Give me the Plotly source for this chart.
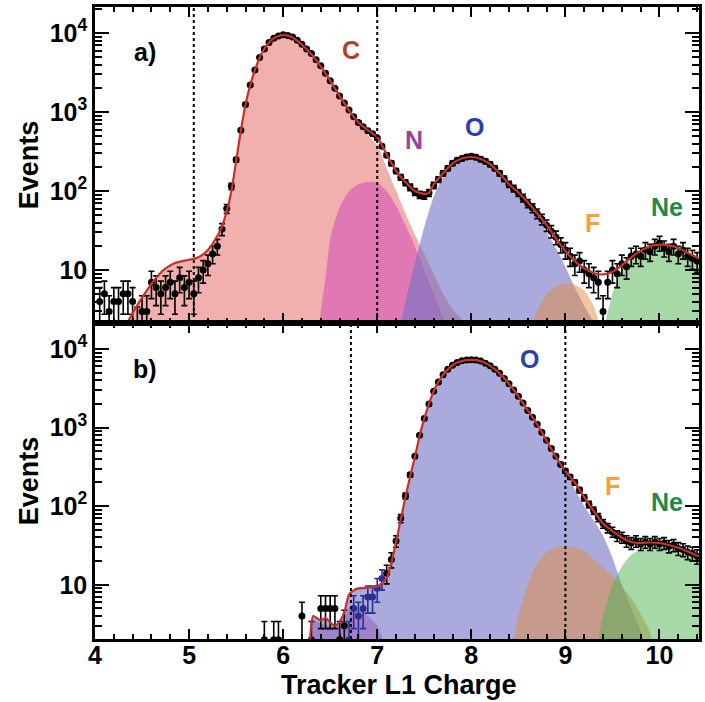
import math
import plotly.graph_objects as go
from plotly.subplots import make_subplots

# ---------------- data: panel a ----------------
A_PTS = [(4.05,4),(4.10,5),(4.15,3),(4.20,4),(4.25,4),(4.30,5),(4.35,5),(4.40,4),(4.45,2),(4.50,3),
         (4.55,3),(4.60,7),(4.65,6),(4.70,5),(4.75,6),(4.80,7),(4.85,5),(4.90,8),(4.95,6),(5.00,7),
         (5.05,5),(5.10,8),(5.15,10),(5.20,12),(5.25,16),(5.30,20),(5.35,33),(5.40,60),(5.45,115),(5.50,250),
         (5.55,590),(5.60,1250),(5.65,2200),(5.70,3400),(5.75,4900),(5.80,6300),(5.85,7600),(5.90,8600),(5.95,9200),(6.00,9500),
         (6.05,9300),(6.10,8900),(6.15,8100),(6.20,7200),(6.25,6300),(6.30,5500),(6.35,4600),(6.40,3850),(6.45,3100),(6.50,2500),
         (6.55,2000),(6.60,1600),(6.65,1300),(6.70,1060),(6.75,870),(6.80,740),(6.85,650),(6.90,580),(6.95,530),(7.00,470),
         (7.05,370),(7.10,285),(7.15,225),(7.20,180),(7.25,150),(7.30,128),(7.35,112),(7.40,98),(7.45,90),(7.50,88),
         (7.55,95),(7.60,118),(7.65,140),(7.70,168),(7.75,195),(7.80,225),(7.85,245),(7.90,258),(7.95,270),(8.00,275),
         (8.05,268),(8.10,252),(8.15,238),(8.20,218),(8.25,195),(8.30,168),(8.35,143),(8.40,122),(8.45,108),(8.50,95),
         (8.55,82),(8.60,70),(8.65,61),(8.70,52),(8.75,44),(8.80,37),(8.85,31),(8.90,26),(8.95,21),(9.00,18),
         (9.05,15),(9.10,12),(9.15,13),(9.20,10),(9.25,9),(9.30,8),(9.35,7),(9.40,3),(9.45,7),(9.50,10),
         (9.55,9),(9.60,12),(9.65,11),(9.70,15),(9.75,16),(9.80,15),(9.85,18),(9.90,17),(9.95,20),(10.00,22),
         (10.05,19),(10.10,17),(10.15,20),(10.20,16),(10.25,18),(10.30,15),(10.35,14),(10.40,13)]

FIT_A = [(4.30,1.5),(4.35,2.2),(4.45,3.6),(4.55,5.5),(4.65,8.0),(4.75,10.5),(4.85,12.3),(5.00,13.5),(5.10,14.5),
         (5.20,18),(5.30,27),(5.35,36),(5.40,55),(5.45,100),(5.50,240),(5.55,580),(5.60,1250),(5.65,2200),
         (5.70,3400),(5.75,4900),(5.80,6300),(5.85,7600),(5.90,8600),(5.95,9200),(6.00,9400),(6.05,9300),
         (6.10,8800),(6.15,8000),(6.20,7100),(6.30,5400),(6.40,3800),(6.50,2500),(6.60,1600),(6.70,1050),
         (6.80,740),(6.90,590),(7.00,480),(7.10,290),(7.20,180),(7.30,130),(7.40,100),(7.50,92),(7.55,95),
         (7.60,122),(7.70,168),(7.80,222),(7.90,258),(8.00,270),(8.10,255),(8.20,220),(8.30,168),(8.40,122),
         (8.50,96),(8.60,72),(8.70,52),(8.80,37),(8.90,25),(9.00,17.5),(9.10,13),(9.20,10.5),(9.30,9.2),
         (9.40,8.8),(9.50,9.5),(9.60,11.5),(9.70,14.5),(9.80,17.5),(9.90,20),(10.00,21),(10.10,20.5),
         (10.20,19),(10.30,16.5),(10.42,14)]

C_TAIL_A = [(6.80,700),(6.90,510),(7.00,380),(7.10,195),(7.20,100),(7.30,52),(7.40,28),(7.50,16),
            (7.60,9),(7.70,5),(7.80,3.2),(7.90,2.4),(8.00,1.8),(8.05,1.0)]
N_A = [(6.35,1.0),(6.40,3),(6.45,8),(6.50,25),(6.55,42),(6.60,62),(6.70,100),(6.80,122),(6.90,130),
       (6.95,131),(7.00,127),(7.10,100),(7.20,65),(7.30,37),(7.40,20),(7.50,10),(7.60,5),(7.70,2.5),(7.78,1.0)]
O_A = [(7.20,1.0),(7.25,2),(7.30,4),(7.40,12),(7.50,35),(7.60,85),(7.70,150),(7.80,212),(7.90,250),
       (8.00,265),(8.10,250),(8.20,216),(8.30,166),(8.40,120),(8.50,92),(8.60,66),(8.70,46),(8.80,30),
       (8.90,19),(9.00,11),(9.10,6),(9.20,3.5),(9.30,2.2),(9.40,1.3),(9.45,1.0)]
F_A = [(8.55,1.0),(8.60,1.5),(8.70,3),(8.80,5),(8.90,6.2),(9.00,6.8),(9.10,6.5),(9.20,5.5),(9.30,3.5),
       (9.35,2.3),(9.40,1.0)]
NE_A = [(9.38,1.0),(9.42,2),(9.50,5),(9.60,10),(9.70,14),(9.80,17.5),(9.90,20),(10.00,21),(10.10,20.5),
        (10.20,19),(10.30,16.5),(10.42,14)]

# ---------------- data: panel b ----------------
B_PTS = [(5.80,2),(5.90,2),(5.95,2),(6.20,4),(6.30,2),(6.40,5),(6.45,5),(6.50,5),(6.55,5),(6.60,2),(6.65,3),
         (7.10,14),(7.15,21),(7.20,36),(7.25,70),(7.30,135),(7.35,250),(7.40,430),(7.45,800),(7.50,1300),
         (7.55,2000),(7.60,2900),(7.65,3800),(7.70,4700),(7.75,5500),(7.80,6200),(7.85,6700),(7.90,7050),
         (7.95,7250),(8.00,7300),(8.05,7250),(8.10,7000),(8.15,6600),(8.20,6100),(8.25,5500),(8.30,4900),
         (8.35,4200),(8.40,3600),(8.45,3000),(8.50,2500),(8.55,2050),(8.60,1650),(8.65,1350),(8.70,1100),
         (8.75,870),(8.80,690),(8.85,540),(8.90,430),(8.95,340),(9.00,280),(9.05,235),(9.10,200),(9.15,160),
         (9.20,128),(9.25,105),(9.30,88),(9.35,72),(9.40,60),(9.45,53),(9.50,47),(9.55,42),(9.60,40),
         (9.65,36),(9.70,34),(9.75,36),(9.80,33),(9.85,35),(9.90,33),(9.95,35),(10.00,33),(10.05,34),
         (10.10,31),(10.15,32),(10.20,29),(10.25,28),(10.30,26),(10.35,25),(10.40,23)]
B_PTS_BLUE = [(6.70,2),(6.75,5),(6.80,4),(6.85,5),(6.90,7),(6.95,7),(7.00,9),(7.05,12)]

FIT_B = [(6.28,1.5),(6.32,4.0),(6.40,3.5),(6.45,3.8),(6.50,3.3),(6.55,3.0),(6.60,3.4),(6.65,4.5),
         (6.70,7.5),(6.75,8.5),(6.80,9.0),(6.90,9.2),(7.00,9.5),(7.05,10.5),(7.10,12),(7.15,19),(7.20,35),
         (7.25,68),(7.30,130),(7.35,240),(7.40,420),(7.45,780),(7.50,1300),(7.55,2000),(7.60,2900),
         (7.65,3800),(7.70,4700),(7.75,5500),(7.80,6200),(7.85,6700),(7.90,7000),(7.95,7200),(8.00,7250),
         (8.05,7200),(8.10,7000),(8.15,6600),(8.20,6100),(8.25,5500),(8.30,4900),(8.40,3600),(8.50,2500),
         (8.60,1650),(8.70,1100),(8.80,680),(8.90,420),(9.00,280),(9.10,200),(9.20,130),(9.30,87),
         (9.40,60),(9.50,48),(9.60,40),(9.70,35),(9.80,34),(9.90,34.5),(10.00,34),(10.10,32),(10.20,29.5),
         (10.30,26.5),(10.42,23)]
O_TAIL_B = [(9.10,165),(9.20,100),(9.30,66),(9.40,42),(9.50,22),(9.60,10),(9.70,5),(9.80,2.6),(9.87,1.0)]
N_B = [(6.28,1.0),(6.32,3.5),(6.40,3.2),(6.50,3.0),(6.60,3.0),(6.70,5),(6.80,5),(6.90,4),(7.00,3),
       (7.10,1.5),(7.15,1.0)]
F_B = [(8.40,1.0),(8.45,2),(8.50,4),(8.60,10),(8.70,19),(8.80,26),(8.90,30),(9.00,31),(9.10,29.5),
       (9.20,27),(9.30,21),(9.40,16.5),(9.50,13),(9.60,9.5),(9.70,6.8),(9.80,4.3),(9.90,2.5),(9.96,1.0)]
NE_B = [(9.30,1.0),(9.35,2),(9.40,4),(9.50,10),(9.60,17),(9.70,24),(9.80,28),(9.90,30.5),(10.00,31.5),
        (10.10,31),(10.20,29),(10.30,26),(10.42,23)]

VLINES_A = [5.05, 7.0]
VLINES_B = [6.72, 9.0]

Y_TICKS = [10, 100, 1000, 10000]
Y_TICKTEXT = ["10", "10<sup>2</sup>", "10<sup>3</sup>", "10<sup>4</sup>"]
Y_MINOR = [m * 10 ** k for k in range(0, 4) for m in range(2, 10)] + [20000]

# ---------------- colours ----------------
COL_C = "rgba(230,110,105,0.55)"
COL_N = "rgba(214,83,185,0.6)"
COL_O = "rgba(113,113,197,0.6)"
COL_F = "rgba(228,140,60,0.5)"
COL_NE = "rgba(80,178,80,0.5)"
FIT_COL = "#c8322a"

FONT = "Liberation Sans, Arial, Helvetica, sans-serif"

fig = make_subplots(rows=2, cols=1, shared_xaxes=True, vertical_spacing=0)


def split(p):
    return [a for a, _ in p], [b for _, b in p]


def add_area(pairs, color, row):
    x, y = split(pairs)
    fig.add_trace(go.Scatter(x=x, y=y, mode="lines",
                             line=dict(width=0, shape="spline", smoothing=0.6),
                             fill="tozeroy", fillcolor=color, hoverinfo="skip",
                             showlegend=False), row=row, col=1)


def add_points(pairs, color, row):
    x, y = split(pairs)
    fig.add_trace(go.Scatter(x=x, y=y, mode="markers",
                             marker=dict(color=color, size=7),
                             error_y=dict(type="data", array=[math.sqrt(v) for v in y],
                                          color=color, thickness=1.6, width=3),
                             showlegend=False), row=row, col=1)


def add_fit(pairs, row):
    x, y = split(pairs)
    fig.add_trace(go.Scatter(x=x, y=y, mode="lines",
                             line=dict(color=FIT_COL, width=2.2, shape="spline", smoothing=0.6),
                             showlegend=False), row=row, col=1)


# panel a
C_A = [p for p in FIT_A if p[0] <= 6.7] + C_TAIL_A
add_area(C_A, COL_C, 1)
add_area(N_A, COL_N, 1)
add_area(O_A, COL_O, 1)
add_area(F_A, COL_F, 1)
add_area(NE_A, COL_NE, 1)
add_points(A_PTS, "black", 1)
add_fit(FIT_A, 1)

# panel b
O_B = [p for p in FIT_B if p[0] <= 9.0] + O_TAIL_B
add_area(N_B, COL_N, 2)
add_area(O_B, COL_O, 2)
add_area(F_B, COL_F, 2)
add_area(NE_B, COL_NE, 2)
add_points(B_PTS, "black", 2)
add_points(B_PTS_BLUE, "#2b2f8f", 2)
add_fit(FIT_B, 2)

xcommon = dict(range=[4, 10.42], showline=True, linecolor="black", linewidth=2.5,
               mirror="allticks", ticks="inside", ticklen=10, tickwidth=2, tickcolor="black",
               tick0=0, dtick=1, showgrid=False, zeroline=False,
               tickfont=dict(family=FONT, size=25, color="black", weight="bold"),
               minor=dict(ticks="inside", ticklen=5, tickwidth=1.5, tickcolor="black",
                          dtick=0.2, showgrid=False))
fig.update_xaxes(**xcommon)
fig.update_xaxes(showticklabels=False, row=1, col=1)
fig.update_xaxes(ticklabelstandoff=-8, row=2, col=1)

ycommon = dict(type="log", showline=True, linecolor="black", linewidth=2.5, mirror="allticks",
               ticks="inside", ticklen=14, tickwidth=2, tickcolor="black",
               tickvals=Y_TICKS, ticktext=Y_TICKTEXT,
               tickfont=dict(family=FONT, size=25, color="black", weight="bold"),
               showgrid=False, zeroline=False,
               minor=dict(ticks="inside", ticklen=7, tickwidth=1.5, tickcolor="black",
                          tickvals=Y_MINOR, showgrid=False),
               title=dict(text="Events", font=dict(family=FONT, size=27, color="black", weight="bold"),
                          standoff=4))
fig.update_yaxes(**ycommon)
fig.update_yaxes(range=[0.33, 4.33], row=1, col=1)
fig.update_yaxes(range=[0.31, 4.33], row=2, col=1)

shapes = []
for v in VLINES_A:
    shapes.append(dict(type="line", xref="x", yref="y domain", x0=v, x1=v, y0=0, y1=1,
                       line=dict(color="black", width=2, dash="dot")))
for v in VLINES_B:
    shapes.append(dict(type="line", xref="x2", yref="y2 domain", x0=v, x1=v, y0=0, y1=1,
                       line=dict(color="black", width=2, dash="dot")))


def lab(text, x, y, color, ax="x", ay="y", size=25):
    return dict(text="<b>" + text + "</b>", x=x, y=y, xref=ax, yref=ay, showarrow=False,
                font=dict(family=FONT, size=size, color=color))


annotations = [
    lab("a)", 4.53, 3.76, "black"),
    lab("C", 6.72, 3.78, "#b0402e"),
    lab("N", 7.39, 2.65, "#9a3fa2"),
    lab("O", 8.03, 2.81, "#2b3fb0"),
    lab("F", 9.29, 1.59, "#f4a03c"),
    lab("Ne", 10.08, 1.80, "#23884a"),
    lab("b)", 4.53, 3.74, "black", "x2", "y2"),
    lab("O", 8.62, 3.87, "#2b3fb0", "x2", "y2"),
    lab("F", 9.50, 2.26, "#f4a03c", "x2", "y2"),
    lab("Ne", 10.08, 2.05, "#23884a", "x2", "y2"),
    # x-axis title placed precisely below the tick labels
    dict(text="<b>Tracker L1 Charge</b>", xref="paper", yref="paper", x=0.504, y=-0.0725,
         xanchor="center", yanchor="middle", showarrow=False,
         font=dict(family=FONT, size=27, color="black")),
]

fig.update_layout(width=705, height=702, margin=dict(l=95, r=3, t=7, b=63),
                  plot_bgcolor="white", paper_bgcolor="white", showlegend=False,
                  font=dict(family=FONT, color="black"),
                  shapes=shapes, annotations=annotations)

fig.write_html("out.html", config={"displayModeBar": False},
               post_script="document.body.style.margin='0px';")
